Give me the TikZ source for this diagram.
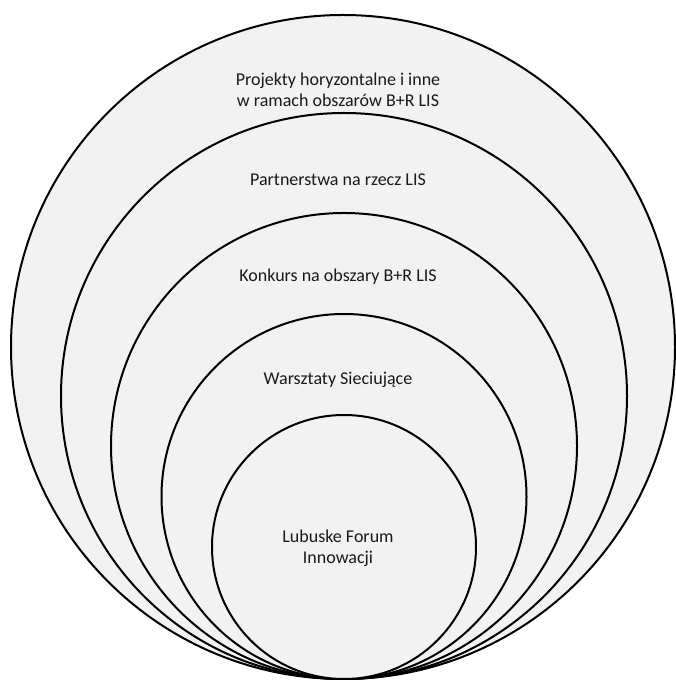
\documentclass[tikz,border=0pt]{standalone}
\usepackage{fontspec}
\setmainfont{Carlito}
\begin{document}
\begin{tikzpicture}[x=1pt,y=1pt,
  ring/.style={draw=black,line width=2pt,fill=ringfill},
  lbl/.style={align=center,font=\fontsize{18}{21}\selectfont,text=black!90,inner sep=0pt}]
\definecolor{ringfill}{HTML}{F2F2F2}
\useasboundingbox (0,0) rectangle (676,680);
\begin{scope}
\clip (0,0) rectangle (676,680);
\draw[ring] (343,1+332) circle[radius=332];
\draw[ring] (344,1+283) circle[radius=283];
\draw[ring] (344,1+233) circle[radius=233];
\draw[ring] (344,1+182.5) circle[radius=182.5];
\draw[ring] (344,1+132) circle[radius=132];
\end{scope}
\node[lbl] (t1) at (338,680-90) {Projekty horyzontalne i inne\\w ramach obszarów B+R LIS};
\node[lbl] (t2) at (338,680-180) {Partnerstwa na rzecz LIS};
\node[lbl] (t3) at (338,680-277) {Konkurs na obszary B+R LIS};
\node[lbl] (t4) at (338,680-380) {Warsztaty Sieciujące};
\node[lbl] (t5) at (338,680-548) {Lubuske Forum\\Innowacji};
\end{tikzpicture}
\end{document}
